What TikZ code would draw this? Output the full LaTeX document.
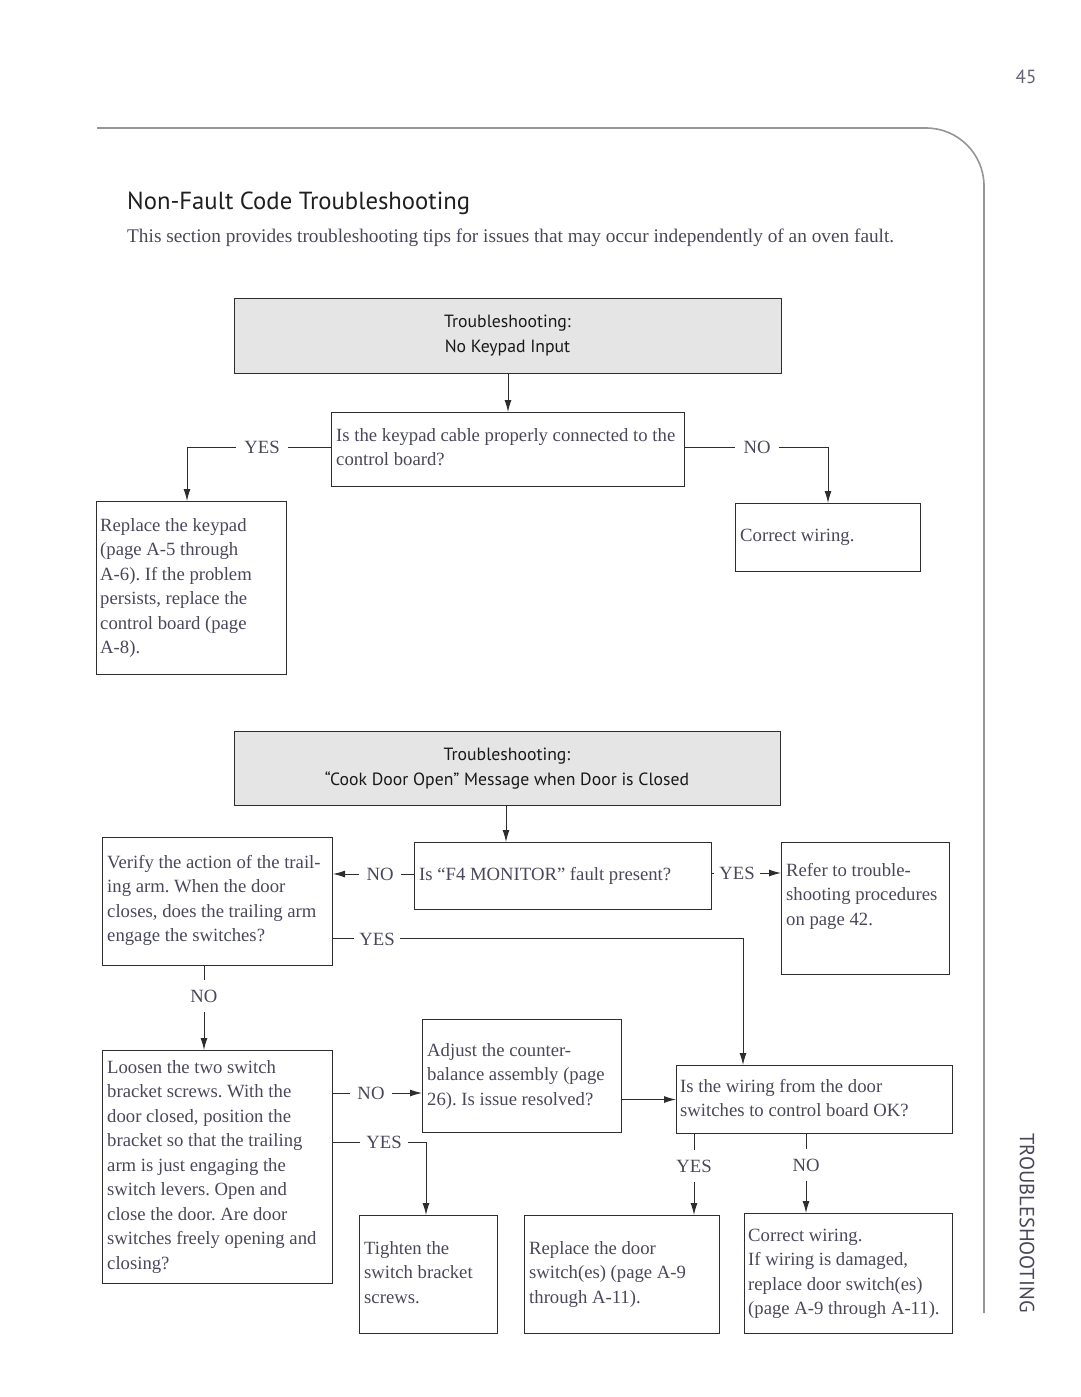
\documentclass[tikz,border=0pt]{standalone}
\usepackage{fontspec}
\setmainfont{Liberation Serif}
\newfontfamily\hsans{PT Sans}
\usetikzlibrary{arrows.meta,calc}
\frenchspacing
\definecolor{txtc}{RGB}{72,72,90}
\definecolor{linec}{RGB}{45,45,45}
\definecolor{boxfill}{RGB}{229,229,230}
\definecolor{framec}{RGB}{150,150,150}
\tikzset{
 box/.style={draw=linec, line width=1pt, inner sep=0pt, anchor=north west},
 head/.style={box, fill=boxfill},
 txt/.style={anchor=base west, inner sep=0pt, text=txtc, font=\fontsize{18.7}{24.5}\selectfont},
 htxt/.style={anchor=base, inner sep=0pt, text=black!90, font=\hsans\fontsize{17.7}{25}\selectfont},
 lbl/.style={inner xsep=8pt, inner ysep=10pt, text=txtc, font=\fontsize{18.7}{24.5}\selectfont},
 conn/.style={draw=linec, line width=1pt},
 arr/.style={conn, -{Latex[length=12pt,width=7pt]}},
}
\begin{document}
\begin{tikzpicture}[x=1pt,y=-1pt]
\useasboundingbox (0,0) rectangle (1080,1397);
% page frame
\draw[framec, line width=1.6pt, rounded corners=58pt] (97,128) -- (984,128) -- (984,1313);
\node[font=\hsans\fontsize{19}{19}\selectfont, text=txtc!85, inner sep=0pt] (pg) at (1026,77) {45};
\node[rotate=-90, font=\hsans\fontsize{20.5}{20.5}\selectfont, text=txtc, inner sep=0pt] (side) at (1027,1223) {TROUBLESHOOTING};
\node[anchor=base west, inner sep=0pt, font=\hsans\fontsize{24.7}{24.7}\selectfont, text=black!88] (title) at (127,209) {Non-Fault Code Troubleshooting};
\node[anchor=base west, inner sep=0pt, font=\fontsize{19.3}{22}\selectfont, text=txtc] (sub) at (127,242) {This section provides troubleshooting tips for issues that may occur independently of an oven fault.};

% ---------- chart 1 ----------
\node[head, minimum width=547pt, minimum height=75pt] (b1) at (234,298) {};
\node[htxt] (b1t) at (507.5,327) {\parbox[t]{400pt}{\centering Troubleshooting:\\No Keypad Input}};
\node[box, minimum width=353pt, minimum height=74pt] (b2) at (331,412) {};
\node[txt] (b2t) at (336,441) {\parbox[t]{360pt}{\raggedright Is the keypad cable properly connected to the\\control board?}};
\node[box, minimum width=190pt, minimum height=173pt] (b3) at (96,501) {};
\node[txt] (b3t) at (100,531) {\parbox[t]{200pt}{\raggedright Replace the keypad\\(page A-5 through\\A-6). If the problem\\persists, replace the\\control board (page\\A-8).}};
\node[box, minimum width=185pt, minimum height=68pt] (b4) at (735,503) {};
\node[txt] (b4t) at (740,541) {\parbox[t]{180pt}{\raggedright Correct wiring.}};

\node[lbl] (y1) at (262,447) {YES};
\node[lbl] (n1) at (757,447) {NO};
\coordinate (c1) at (187,501);
\coordinate (c2) at (828,503);
\draw[conn] (b2.west |- y1) -- (y1.east);
\draw[arr] (y1.west) -| (c1);
\draw[conn] (b2.east |- n1) -- (n1.west);
\draw[arr] (n1.east) -| (c2);
\draw[arr] (b1.south) -- (b2.north);

% ---------- chart 2 ----------
\node[head, minimum width=546pt, minimum height=74pt] (b5) at (234,731) {};
\node[htxt] (b5t) at (507,760) {\parbox[t]{500pt}{\centering Troubleshooting:\\“Cook Door Open” Message when Door is Closed}};
\node[box, minimum width=297pt, minimum height=67pt] (b6) at (414,842) {};
\node[txt] (b6t) at (419,880) {\parbox[t]{300pt}{\raggedright Is “F4 MONITOR” fault present?}};
\node[box, minimum width=230pt, minimum height=128pt] (b7) at (102,837) {};
\node[txt] (b7t) at (107,868) {\parbox[t]{240pt}{\raggedright Verify the action of the trail-\\ing arm. When the door\\closes, does the trailing arm\\engage the switches?}};
\node[box, minimum width=168pt, minimum height=132pt] (b8) at (781,842) {};
\node[txt] (b8t) at (786,876) {\parbox[t]{180pt}{\raggedright Refer to trouble-\\shooting procedures\\on page 42.}};
\node[box, minimum width=230pt, minimum height=233pt] (b9) at (102,1050) {};
\node[txt] (b9t) at (107,1073) {\parbox[t]{240pt}{\raggedright Loosen the two switch\\bracket screws. With the\\door closed, position the\\bracket so that the trailing\\arm is just engaging the\\switch levers. Open and\\close the door. Are door\\switches freely opening and\\closing?}};
\node[box, minimum width=199pt, minimum height=113pt] (b11) at (422,1019) {};
\node[txt] (b11t) at (427,1056) {\parbox[t]{200pt}{\raggedright Adjust the counter-\\balance assembly (page\\26). Is issue resolved?}};
\node[box, minimum width=276pt, minimum height=68pt] (b10) at (676,1065) {};
\node[txt] (b10t) at (680,1092) {\parbox[t]{280pt}{\raggedright Is the wiring from the door\\switches to control board OK?}};
\node[box, minimum width=138pt, minimum height=118pt] (b12) at (359,1215) {};
\node[txt] (b12t) at (364,1254) {\parbox[t]{140pt}{\raggedright Tighten the\\switch bracket\\screws.}};
\node[box, minimum width=195pt, minimum height=118pt] (b13) at (524,1215) {};
\node[txt] (b13t) at (529,1254) {\parbox[t]{200pt}{\raggedright Replace the door\\switch(es) (page A-9\\through A-11).}};
\node[box, minimum width=208pt, minimum height=120pt] (b14) at (744,1213) {};
\node[txt] (b14t) at (748,1241) {\parbox[t]{220pt}{\raggedright Correct wiring.\\If wiring is damaged,\\replace door switch(es)\\(page A-9 through A-11).}};

\node[lbl, inner xsep=7pt] (n2) at (380,874) {NO};
\node[lbl, inner xsep=5pt] (y2) at (737,873) {YES};
\node[lbl, inner xsep=5pt] (y3) at (377,939) {YES};
\node[lbl] (n3) at (204,996) {NO};
\node[lbl, inner xsep=7pt] (n4) at (371,1093) {NO};
\node[lbl, inner xsep=6pt] (y4) at (384,1142) {YES};
\node[lbl] (y5) at (694,1166) {YES};
\node[lbl] (n5) at (806,1165) {NO};
\coordinate (c3) at (743,1065);
\coordinate (c4) at (426,1215);

\draw[arr] (b5.south -| 506,0) -- (b6.north -| 506,0);
\draw[conn] (b6.west |- n2) -- (n2.east);
\draw[arr] (n2.west) -- (b7.east |- n2);
\draw[conn] (b6.east |- y2) -- (y2.west);
\draw[arr] (y2.east) -- (b8.west |- y2);
\draw[conn] (b7.east |- 0,938) -- (y3.west |- 0,938);
\draw[arr] (y3.east |- 0,938) -| (c3);
\draw[conn] (b7.south -| n3) -- (n3.north);
\draw[arr] (n3.south) -- (b9.north -| n3);
\draw[conn] (b9.east |- n4) -- (n4.west);
\draw[arr] (n4.east) -- (b11.west |- n4);
\draw[arr] (b11.east |- b10.west) -- (b10.west);
\draw[conn] (b9.east |- y4) -- (y4.west);
\draw[arr] (y4.east) -| (c4);
\draw[conn] (b10.south -| y5) -- (y5.north);
\draw[arr] (y5.south) -- (b13.north -| y5);
\draw[conn] (b10.south -| n5) -- (n5.north);
\draw[arr] (n5.south) -- (b14.north -| n5);
\end{tikzpicture}
\end{document}
